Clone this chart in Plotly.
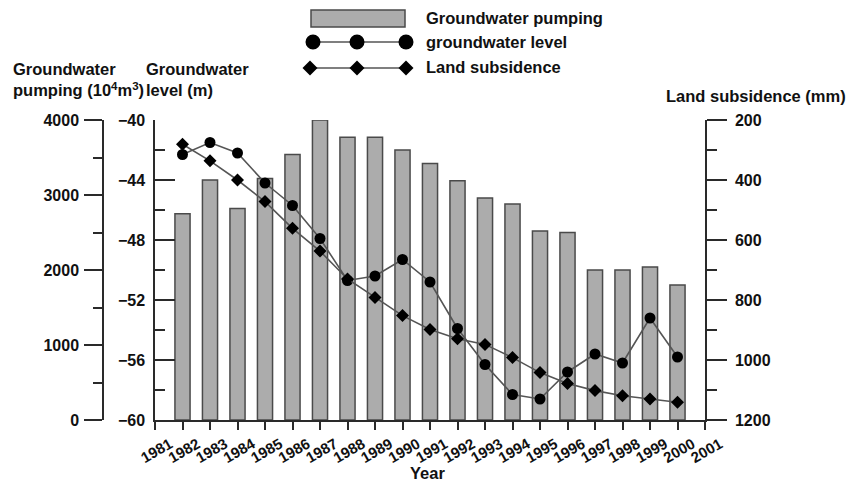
import plotly.graph_objects as go

years = list(range(1982, 2001))
pumping = [2750, 3200, 2820, 3220, 3540, 4000, 3770, 3770, 3600, 3420,
           3190, 2960, 2880, 2520, 2500, 2000, 2000, 2040, 1800]
gw_level = [-42.3, -41.5, -42.2, -44.2, -45.7, -47.9, -50.7, -50.4, -49.3, -50.8,
            -53.9, -56.3, -58.3, -58.6, -56.8, -55.6, -56.2, -53.2, -55.8]
subsidence = [281, 336, 400, 472, 561, 637, 730, 792, 852, 898,
              929, 948, 992, 1042, 1078, 1102, 1119, 1130, 1141]
year_ticks = list(range(1981, 2002))

W, H = 858, 482
FONT = "Liberation Sans, Arial, sans-serif"
AX = "#2a2a2a"
LINE = "#555555"


def px(x):
    return x / W


def py(y):
    return 1 - y / H


tickfont = dict(family=FONT, size=16, color="#111", weight="bold")
xtickfont = dict(family=FONT, size=15, color="#111", weight="bold")

fig = go.Figure()
fig.add_trace(go.Bar(x=years, y=pumping, yaxis="y", width=0.55,
                     marker=dict(color="#acacac", line=dict(color="#4a4a4a", width=1.5)),
                     name="Groundwater pumping", showlegend=False))
fig.add_trace(go.Scatter(x=years, y=gw_level, yaxis="y2", mode="lines+markers",
                         line=dict(color=LINE, width=1.6),
                         marker=dict(symbol="circle", size=11, color="black"),
                         name="groundwater level", showlegend=False))
fig.add_trace(go.Scatter(x=years, y=subsidence, yaxis="y3", mode="lines+markers",
                         line=dict(color=LINE, width=1.6),
                         marker=dict(symbol="diamond", size=10, color="black"),
                         name="Land subsidence", showlegend=False))

xdom = [px(155), px(705)]
ydom = [py(420), py(120)]

common = dict(showline=True, linecolor=AX, linewidth=1.5, showgrid=False, zeroline=False,
              tickwidth=1.5, tickcolor=AX, automargin=False)

fig.update_layout(
    width=W, height=H,
    margin=dict(l=0, r=0, t=0, b=0, pad=0, autoexpand=False),
    paper_bgcolor="white", plot_bgcolor="white",
    font=dict(family=FONT, color="#111"),
    xaxis=dict(domain=xdom, range=[1981, 2001], tickmode="array", tickvals=year_ticks,
               ticktext=[str(y) for y in year_ticks], tickfont=xtickfont,
               ticks="outside", ticklen=8, tickangle=-30, anchor="y2",
               ticklabelshift=15, ticklabelstandoff=0, **common),
    yaxis=dict(domain=ydom, range=[0, 4000], tickvals=[0, 1000, 2000, 3000, 4000],
               ticks="outside", ticklen=18, tickfont=tickfont,
               minor=dict(tickvals=[500, 1500, 2500, 3500], ticks="outside", ticklen=9,
                          tickwidth=1.5, tickcolor=AX),
               ticklabelstandoff=2,
               anchor="free", position=px(103), side="left", **common),
    yaxis2=dict(domain=ydom, range=[-60, -40], tickvals=[-60, -56, -52, -48, -44, -40],
                ticks="inside", ticklen=20, tickfont=tickfont,
                minor=dict(tickvals=[-58, -54, -50, -46, -42], ticks="inside", ticklen=10,
                           tickwidth=1.5, tickcolor=AX),
                ticklabelstandoff=5,
                overlaying="y", anchor="x", side="left", **common),
    yaxis3=dict(domain=ydom, range=[1200, 200], tickvals=[200, 400, 600, 800, 1000, 1200],
                ticks="outside", ticklen=20, tickfont=tickfont,
                minor=dict(tickvals=[300, 500, 700, 900, 1100], ticks="outside", ticklen=10,
                           tickwidth=1.5, tickcolor=AX),
                ticklabelstandoff=5,
                overlaying="y", anchor="x", side="right", **common),
    showlegend=False,
)

titlefont = dict(family=FONT, size=16.5, color="#111", weight="bold")
ann = [
    dict(text="Groundwater<br>pumping (10<sup>4</sup>m<sup>3</sup>)", x=px(11), y=py(80),
         xanchor="left", yanchor="middle", align="left"),
    dict(text="Groundwater<br>level (m)", x=px(144), y=py(80),
         xanchor="left", yanchor="middle", align="left"),
    dict(text="Land subsidence (mm)", x=px(664), y=py(96),
         xanchor="left", yanchor="middle", align="left"),
    dict(text="Year", x=px(427), y=py(473), xanchor="center", yanchor="middle"),
    dict(text="Groundwater pumping", x=px(424), y=py(18), xanchor="left", yanchor="middle"),
    dict(text="groundwater level", x=px(424), y=py(42), xanchor="left", yanchor="middle"),
    dict(text="Land subsidence", x=px(424), y=py(67), xanchor="left", yanchor="middle"),
]
for a in ann:
    a.update(xref="paper", yref="paper", showarrow=False, font=titlefont)
fig.update_layout(annotations=ann)

# legend glyphs
shapes = [dict(type="rect", x0=px(311), x1=px(405), y0=py(27), y1=py(10),
               fillcolor="#acacac", line=dict(color="#4a4a4a", width=1.5)),
          dict(type="line", x0=px(313), x1=px(406), y0=py(42), y1=py(42),
               line=dict(color=LINE, width=1.6)),
          dict(type="line", x0=px(310), x1=px(406), y0=py(68), y1=py(68),
               line=dict(color=LINE, width=1.6))]
for cx in (313, 357, 406):
    shapes.append(dict(type="circle", x0=px(cx - 7.5), x1=px(cx + 7.5),
                       y0=py(42 + 7.5), y1=py(42 - 7.5),
                       fillcolor="black", line=dict(color="black", width=0)))
for cx in (310, 357, 406):
    r = 7.5
    path = (f"M {px(cx - r)},{py(68)} L {px(cx)},{py(68 - r)} "
            f"L {px(cx + r)},{py(68)} L {px(cx)},{py(68 + r)} Z")
    shapes.append(dict(type="path", path=path, fillcolor="black",
                       line=dict(color="black", width=0)))
for s in shapes:
    s.update(xref="paper", yref="paper")
fig.update_layout(shapes=shapes)

fig.write_html("out.html", config=dict(displayModeBar=False),
               post_script="document.body.style.margin='0';document.body.style.overflow='hidden';")
